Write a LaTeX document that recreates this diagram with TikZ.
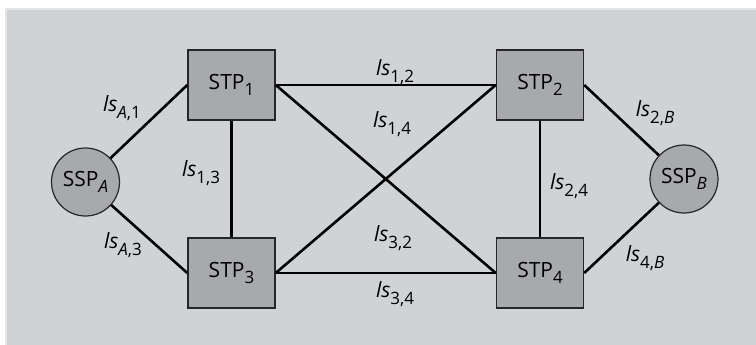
\documentclass[tikz,border=0pt]{standalone}
\usepackage{fontspec}
\setmainfont{Open Sans}
\definecolor{panelgray}{HTML}{D0D3D6}
\definecolor{rimgray}{HTML}{E4E5E7}
\definecolor{boxgray}{HTML}{A7A9AC}
\tikzset{
    stpbox/.style={draw=black!85, line width=1.5pt, fill=boxgray, minimum width=87pt, minimum height=70pt, inner sep=0pt},
    sspnode/.style={draw=black!85, line width=1.2pt, fill=boxgray, circle, minimum size=68pt, inner sep=0pt},
    link/.style={line width=2.6pt},
    lbl/.style={inner sep=0pt}
}
\newcommand{\sub}[1]{\raisebox{-0.6ex}{\fontsize{17}{19}\selectfont #1}}
\newcommand{\lnk}[2]{\textit{ls}\sub{#1,#2}}
\begin{document}
\begin{tikzpicture}[x=1pt, y=-1pt, font=\fontsize{21}{25}\selectfont]
            \useasboundingbox (0,0) rectangle (756,345);
            \fill [white] (0,0) rectangle (756,345);
            \fill [rimgray] (5,8) rectangle (756,345);
            \fill [panelgray] (7,10) rectangle (756,345);
            % nodes
            \node [sspnode] (sspA) at (85.5,182) {SSP\sub{\textit{A}}};
            \node [stpbox] (stp1) at (231.5,85) {STP\sub{1}};
            \node [stpbox] (stp3) at (231.5,273) {STP\sub{3}};
            \node [stpbox] (stp2) at (540,85) {STP\sub{2}};
            \node [stpbox] (stp4) at (540,273) {STP\sub{4}};
            \node [sspnode] (sspB) at (684,179) {SSP\sub{\textit{B}}};
            % links
            \draw [link] (sspA) -- (stp1.west);
            \draw [link] (sspA) -- (stp3.west);
            \draw [link] (stp1) -- (stp3);
            \draw [link] (stp1.east) -- (stp2.west);
            \draw [link] (stp1.east) -- (stp4.west);
            \draw [link] (stp3.east) -- (stp2.west);
            \draw [link] (stp3.east) -- (stp4.west);
            \draw [link] (stp2) -- (stp4);
            \draw [link] (stp2.east) -- (sspB);
            \draw [link] (stp4.east) -- (sspB);
            % labels
            \node [lbl] (lA1) at (122,108) {\lnk{\textit{A}}{1}};
            \node [lbl] (lA3) at (123,245) {\lnk{\textit{A}}{3}};
            \node [lbl] (l13) at (201,173) {\lnk{1}{3}};
            \node [lbl] (l12) at (395,72) {\lnk{1}{2}};
            \node [lbl] (l14) at (392,124) {\lnk{1}{4}};
            \node [lbl] (l32) at (393,238) {\lnk{3}{2}};
            \node [lbl] (l34) at (395,294) {\lnk{3}{4}};
            \node [lbl] (l24) at (569,186) {\lnk{2}{4}};
            \node [lbl] (l2B) at (655,113) {\lnk{2}{\textit{B}}};
            \node [lbl] (l4B) at (645,258) {\lnk{4}{\textit{B}}};
        \end{tikzpicture}
\end{document}
